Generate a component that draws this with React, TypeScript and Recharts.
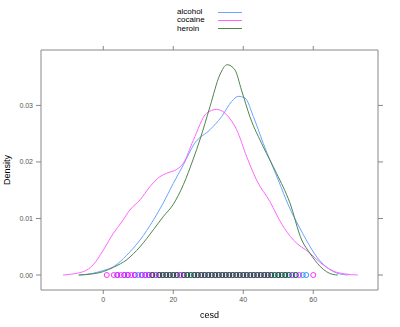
import { ComposedChart, Line, Scatter, XAxis, YAxis } from "recharts";

// density curves (cesd vs density)
const alcoholDensity = [
  { x: -7, y: 0 }, { x: -3, y: 0.0003 }, { x: 0, y: 0.0008 }, { x: 3, y: 0.0015 },
  { x: 6.7, y: 0.0035 }, { x: 10.5, y: 0.0062 }, { x: 14.3, y: 0.0097 }, { x: 17.1, y: 0.0127 },
  { x: 20, y: 0.0162 }, { x: 22.9, y: 0.0195 }, { x: 26, y: 0.0232 }, { x: 30.5, y: 0.0257 },
  { x: 33.8, y: 0.028 }, { x: 36.7, y: 0.0307 }, { x: 38.6, y: 0.0316 }, { x: 40.5, y: 0.0313 },
  { x: 42.9, y: 0.028 }, { x: 45.7, y: 0.0233 }, { x: 50, y: 0.0168 }, { x: 53, y: 0.0122 },
  { x: 56, y: 0.0085 }, { x: 58, y: 0.0062 }, { x: 61, y: 0.0032 }, { x: 64, y: 0.0013 },
  { x: 67.5, y: 0.0002 }, { x: 70, y: 0 },
];

const cocaineDensity = [
  { x: -11.5, y: 0 }, { x: -5.7, y: 0.0006 }, { x: -2.9, y: 0.0018 }, { x: 0, y: 0.0044 },
  { x: 2.9, y: 0.0074 }, { x: 5.3, y: 0.0094 }, { x: 7.6, y: 0.0115 }, { x: 10.5, y: 0.0133 },
  { x: 13.3, y: 0.0156 }, { x: 16.2, y: 0.0174 }, { x: 18.1, y: 0.018 }, { x: 21, y: 0.0187 },
  { x: 22.9, y: 0.0198 }, { x: 25.7, y: 0.0238 }, { x: 29.5, y: 0.0286 }, { x: 32.4, y: 0.0293 },
  { x: 35.3, y: 0.0283 }, { x: 38.1, y: 0.0257 }, { x: 41, y: 0.0209 }, { x: 43.8, y: 0.0168 },
  { x: 47.6, y: 0.013 }, { x: 51, y: 0.009 }, { x: 54.3, y: 0.0062 }, { x: 59, y: 0.0039 },
  { x: 62, y: 0.0022 }, { x: 65.7, y: 0.0007 }, { x: 69, y: 0.0002 }, { x: 72.7, y: 0 },
];

const heroinDensity = [
  { x: -7, y: 0 }, { x: -3, y: 0.0002 }, { x: 0, y: 0.0006 }, { x: 3, y: 0.0014 },
  { x: 6.7, y: 0.0027 }, { x: 10.5, y: 0.005 }, { x: 14.3, y: 0.008 }, { x: 17.1, y: 0.0103 },
  { x: 20, y: 0.0125 }, { x: 22.9, y: 0.016 }, { x: 25.7, y: 0.0205 }, { x: 27.6, y: 0.0239 },
  { x: 30.5, y: 0.0298 }, { x: 33.3, y: 0.0354 }, { x: 35.4, y: 0.0372 }, { x: 37.6, y: 0.0363 },
  { x: 39.5, y: 0.0327 }, { x: 41.9, y: 0.028 }, { x: 45.7, y: 0.0227 }, { x: 49.5, y: 0.018 },
  { x: 53.3, y: 0.0128 }, { x: 56.7, y: 0.0062 }, { x: 59, y: 0.0039 }, { x: 62, y: 0.0015 },
  { x: 65.6, y: 0.0001 }, { x: 67, y: 0 },
];

// observed cesd scores (rug points at density 0)
const alcoholCesd = [4, 6, 7, 9, 10, 11, 12, 13, 14, 15, 16, 17, 18, 19, 20, 21, 22, 23, 24, 25, 26, 27, 28, 29, 30, 31, 32, 33, 34, 35, 36, 37, 38, 39, 40, 41, 42, 43, 44, 45, 46, 47, 48, 49, 50, 51, 52, 53, 54, 55, 57, 58];
const cocaineCesd = [1, 3, 4, 5, 6, 7, 8, 9, 11, 12, 13, 14, 15, 16, 17, 18, 19, 20, 21, 22, 23, 24, 26, 27, 28, 29, 30, 31, 32, 33, 34, 35, 36, 37, 38, 39, 40, 41, 42, 43, 44, 45, 46, 47, 48, 50, 52, 54, 56, 60];
const heroinCesd = [14, 16, 17, 18, 19, 20, 21, 23, 24, 25, 26, 27, 28, 29, 30, 31, 32, 33, 34, 35, 36, 37, 38, 39, 40, 41, 42, 43, 44, 45, 46, 47, 48, 49, 50, 51, 52, 53, 55];

const xTicks = [0, 20, 40, 60];
const yTicks = [0, 0.01, 0.02, 0.03];

const groups = [
  { name: "alcohol", line: "#6aa6ff", point: "#0080ff", density: alcoholDensity, cesd: alcoholCesd },
  { name: "cocaine", line: "#ff66ff", point: "#ff00ff", density: cocaineDensity, cesd: cocaineCesd },
  { name: "heroin", line: "#4f844f", point: "#006400", density: heroinDensity, cesd: heroinCesd },
];

const axisColor = "#888888";
const tickStyle = { fontSize: 7, fill: "#555555", stroke: "none", fontFamily: "Liberation Sans, Arial, sans-serif" };

export default function App() {
  return (
    <div style={{ position: "fixed", left: 0, top: 0, width: 400, height: 327, background: "#fff", fontFamily: "Liberation Sans, Arial, sans-serif" }}>
      <ComposedChart width={400} height={327} margin={{ top: 45, right: 17, bottom: 17, left: 8 }}>
        <XAxis
          xAxisId="bottom"
          type="number"
          dataKey="x"
          domain={[-17.8, 78.5]}
          ticks={xTicks}
          allowDataOverflow
          height={20}
          stroke={axisColor}
          tick={tickStyle}
          tickSize={4}
          tickMargin={3}
        />
        <XAxis
          xAxisId="top"
          orientation="top"
          type="number"
          dataKey="x"
          domain={[-17.8, 78.5]}
          ticks={xTicks}
          allowDataOverflow
          height={5}
          stroke={axisColor}
          tickSize={4}
          tickFormatter={() => ""}
        />
        <YAxis
          yAxisId="left"
          type="number"
          domain={[-0.00265, 0.0398]}
          ticks={yTicks}
          allowDataOverflow
          width={33}
          stroke={axisColor}
          tick={tickStyle}
          tickSize={5}
          tickMargin={3}
          tickFormatter={(v: number) => v.toFixed(2)}
        />
        <YAxis
          yAxisId="right"
          orientation="right"
          type="number"
          domain={[-0.00265, 0.0398]}
          ticks={yTicks}
          allowDataOverflow
          width={5}
          stroke={axisColor}
          tickSize={5}
          tickFormatter={() => ""}
        />
        {groups.map((g) => (
          <Scatter
            key={g.name + "-pts"}
            xAxisId="bottom"
            yAxisId="left"
            data={g.cesd.map((v) => ({ x: v, y: 0 }))}
            dataKey="y"
            isAnimationActive={false}
            shape={(p: any) => <circle cx={p.cx} cy={p.cy} r={2.5} fill="none" stroke={g.point} strokeWidth={0.8} />}
          />
        ))}
        {groups.map((g) => (
          <Line
            key={g.name}
            xAxisId="bottom"
            yAxisId="left"
            data={g.density}
            dataKey="y"
            type="monotone"
            stroke={g.line}
            strokeWidth={1}
            dot={false}
            activeDot={false}
            isAnimationActive={false}
          />
        ))}
      </ComposedChart>

      {/* legend */}
      <div style={{ position: "absolute", left: 177, top: 8, fontSize: 8, lineHeight: "8.4px", color: "#000" }}>
        {groups.map((g) => (
          <div key={g.name} style={{ display: "flex", alignItems: "center", height: 8.4 }}>
            <span style={{ width: 41 }}>{g.name}</span>
            <span style={{ width: 24, height: 1, background: g.line }} />
          </div>
        ))}
      </div>

      <div style={{ position: "absolute", left: 0, top: 310, width: 419, textAlign: "center", fontSize: 9, color: "#000" }}>cesd</div>
      <div
        style={{
          position: "absolute",
          left: 7,
          top: 170,
          fontSize: 9,
          color: "#000",
          transform: "translate(-50%, -50%) rotate(-90deg)",
          whiteSpace: "nowrap",
        }}
      >
        Density
      </div>
    </div>
  );
}
